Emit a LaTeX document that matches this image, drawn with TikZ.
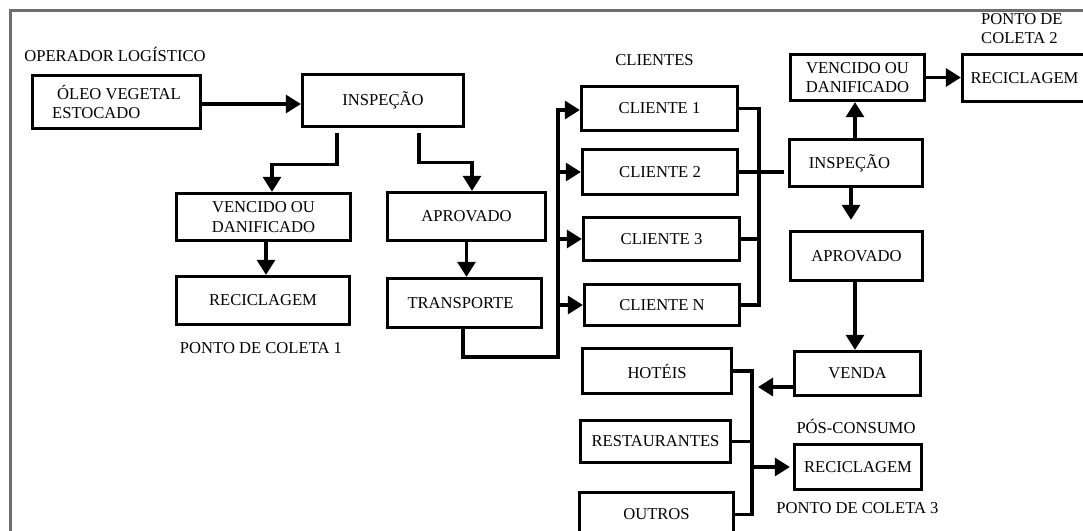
\documentclass[tikz,border=0pt]{standalone}
\usepackage{fontspec}
\setmainfont{Liberation Serif}
\usetikzlibrary{arrows.meta,calc}
\definecolor{framegray}{RGB}{110,110,110}
\newcommand\diagfont{\fontsize{16.6pt}{19.5pt}\selectfont}
\begin{document}
\begin{tikzpicture}[x=1pt,y=-1pt,
  every node/.style={font=\diagfont, inner sep=0pt, text=black},
  box/.style={draw=black, line width=3.3pt, align=center},
  conn/.style={draw=black, line width=3.1pt},
  arr/.style={conn, -{Triangle[width=18pt,length=15pt]}},
  lbl/.style={align=center}]
\useasboundingbox (0,0) rectangle (1083,530);
\clip (0,0) rectangle (1083,530);
% frame
\draw[framegray, line width=2.6pt] (10.5,560) -- (10.5,10.5) -- (1100,10.5);

% labels
\node[lbl] (oper) at (115,54) {OPERADOR LOGÍSTICO};
\node[lbl] (clientes) at (654.5,60) {CLIENTES};
\node[lbl] (pc1) at (261,348) {PONTO DE COLETA 1};
\node[align=left, anchor=west] (pc2) at (981,28.5) {PONTO DE\\COLETA 2};
\node[lbl] (pos) at (856,426) {PÓS-CONSUMO};
\node[lbl] (pc3) at (857.5,508) {PONTO DE COLETA 3};

% boxes
\node[box, align=left, minimum width=168pt, minimum height=53pt] (oleo) at (116.5,102) {\hspace*{5pt}ÓLEO VEGETAL\\ESTOCADO};
\node[box, minimum width=161pt, minimum height=52pt] (insp1) at (383,100.5) {INSPEÇÃO};
\node[box, minimum width=174pt, minimum height=47pt] (venc1) at (263.5,217) {VENCIDO OU\\DANIFICADO};
\node[box, minimum width=158pt, minimum height=48pt] (aprov1) at (466.5,216.5) {APROVADO};
\node[box, minimum width=173pt, minimum height=48pt] (rec1) at (263,300.5) {RECICLAGEM};
\node[box, minimum width=154pt, minimum height=49pt] (transp) at (464.5,303) {TRANSPORTE\hspace*{8pt}};

\node[box, minimum width=156pt, minimum height=44pt] (c1) at (659.5,108.5) {CLIENTE 1};
\node[box, minimum width=155pt, minimum height=45pt] (c2) at (660,172) {CLIENTE 2};
\node[box, minimum width=156pt, minimum height=43pt] (c3) at (661.5,239) {CLIENTE 3};
\node[box, minimum width=155pt, minimum height=41pt] (cN) at (662,305) {CLIENTE N};

\node[box, minimum width=149pt, minimum height=45pt] (hot) at (657,371) {HOTÉIS};
\node[box, minimum width=150pt, minimum height=42pt] (rest) at (655.5,441.5) {RESTAURANTES};
\node[box, minimum width=154pt, minimum height=44pt] (outr) at (656.5,514.5) {OUTROS};

\node[box, minimum width=134pt, minimum height=46pt] (venc2) at (857.5,77.5) {VENCIDO OU\\DANIFICADO};
\node[box, minimum width=131pt, minimum height=47pt] (rec2) at (1028,78) {RECICLAGEM\hspace*{7pt}};
\node[box, minimum width=133pt, minimum height=47pt] (insp2) at (856,163) {INSPEÇÃO\hspace*{13pt}};
\node[box, minimum width=132pt, minimum height=49pt] (aprov2) at (856.5,256) {APROVADO};
\node[box, minimum width=126pt, minimum height=44pt] (venda) at (857.5,373.5) {VENDA};
\node[box, minimum width=127pt, minimum height=45pt] (rec3) at (858,467) {RECICLAGEM};

% bus coordinates
\coordinate (busB) at (558,357);
\coordinate (busT) at (558,110);
\coordinate (rbus) at (759,0);
\coordinate (hbus) at (752,0);

% connectors, left part
\draw[arr] (oleo.east |- 0,104) -- (insp1.west |- 0,104);
\draw[arr] ($(insp1.south)+(-46,5)$) -- ++(0,31) -| ([xshift=8.5pt]venc1.north);
\draw[arr] ($(insp1.south)+(36,5)$) -- ++(0,29) -| ([xshift=5.5pt]aprov1.north);
\draw[arr] ([xshift=2.5pt]venc1.south) -- ([xshift=3pt]rec1.north);
\draw[arr] (aprov1.south) -- (aprov1.south |- transp.north);

% distribution to clients
\draw[arr] ([xshift=-1.5pt]transp.south) |- (busB) -- (busT) -- (busT -| c1.west);
\draw[arr] (c2.west -| busT) -- (c2.west);
\draw[arr] (c3.west -| busT) -- (c3.west);
\draw[arr] (cN.west -| busT) -- (cN.west);

% clients to inspection
\draw[conn] (c1.east) -| (rbus |- cN.east) -- (cN.east);
\draw[conn] (c3.east) -- (c3.east -| rbus);
\draw[conn] (c2.east) -- ($(c2.east -| insp2.west)+(-4,0)$);

% right part
\draw[arr] ([xshift=-1pt]insp2.north) -- ([xshift=-2.5pt]venc2.south);
\draw[arr] (venc2.east) -- (venc2.east -| rec2.west);
\draw[arr, shorten >=10pt] ([xshift=-5pt]insp2.south) -- ([xshift=-5.5pt]aprov2.north);
\draw[arr] ([xshift=-1.5pt]aprov2.south) -- ([xshift=-1.5pt]aprov2.south |- venda.north);
\draw[arr] ($(venda.west)+(0,13.5)$) -- ($(venda.west -| hbus)+(6,13.5)$);

% post-consumption
\draw[conn] (hot.east) -| (hbus |- outr.east) -- (outr.east);
\draw[conn] (rest.east) -- (rest.east -| hbus);
\draw[arr, shorten >=3pt] (rec3.west -| hbus) -- (rec3.west);
\end{tikzpicture}
\end{document}
